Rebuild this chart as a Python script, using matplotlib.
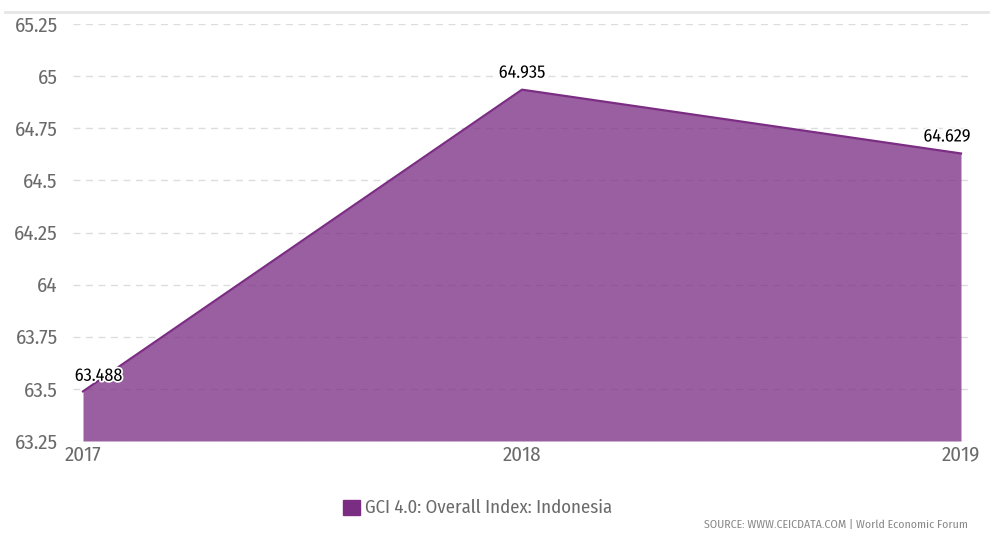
import matplotlib

matplotlib.use("Agg")
import matplotlib.pyplot as plt
import matplotlib.patheffects as pe
from matplotlib.lines import Line2D
from matplotlib.patches import Rectangle

years = [2017, 2018, 2019]
values = [63.488, 64.935, 64.629]
value_labels = ["63.488", "64.935", "64.629"]
yticks = [63.25, 63.5, 63.75, 64, 64.25, 64.5, 64.75, 65, 65.25]
ytick_labels = ["63.25", "63.5", "63.75", "64", "64.25", "64.5", "64.75", "65", "65.25"]
series_name = "GCI 4.0: Overall Index: Indonesia"
source = "SOURCE: WWW.CEICDATA.COM | World Economic Forum"

plt.rcParams["font.family"] = ["Fira Sans Condensed", "DejaVu Sans"]

LINE = "#7b2d83"
GRAY = "#6a6a6a"

fig = plt.figure(figsize=(9.93, 5.33), dpi=100)
ax = fig.add_axes([73 / 993, 92 / 533, 895 / 993, 417 / 533])

ax.fill_between(years, values, 63.25, color=LINE, alpha=0.76, linewidth=0, zorder=2)
ax.plot(years, values, color=LINE, linewidth=1.6, zorder=3)

# label offsets in points, anchored left / centre / right
offsets = [(-6, 5), (0, 6), (7, 6)]
for x, y, s, off in zip(years, values, value_labels, offsets):
    ha = "left" if x == years[0] else ("right" if x == years[-1] else "center")
    ax.annotate(s, (x, y), xytext=off, textcoords="offset points", ha=ha, va="bottom",
                fontsize=13, color="black", zorder=4,
                path_effects=[pe.withStroke(linewidth=2.5, foreground="white")])

ax.set_xlim(2017 - 10 / 439, 2019 + 7 / 439)
ax.set_ylim(63.25, 65.25)
ax.set_yticks(yticks, ytick_labels)
ax.set_xticks(years, [str(y) for y in years])
ax.tick_params(axis="both", length=0, labelcolor=GRAY, labelsize=15)
ax.tick_params(axis="y", pad=11)
ax.tick_params(axis="x", pad=3)
ax.grid(axis="y", color="#dddddd", linestyle=(0, (5, 4)), linewidth=1, zorder=1)
ax.set_axisbelow(True)
for sp in ax.spines.values():
    sp.set_visible(False)

# top border line
fig.add_artist(Line2D([0.005, 0.995], [1 - 12 / 533, 1 - 12 / 533], color="#e6e6e6", linewidth=2))

# legend
fig.add_artist(Rectangle((343 / 993, 1 - 515 / 533), 17 / 993, 15 / 533, color=LINE))
fig.text(365 / 993, 1 - 508 / 533, series_name, ha="left", va="center", fontsize=13.5, color=GRAY)
fig.text(968 / 993, 1 - 525 / 533, source, ha="right", va="center", fontsize=8.5, color="#888888")

fig.savefig("out.png", dpi=100)
